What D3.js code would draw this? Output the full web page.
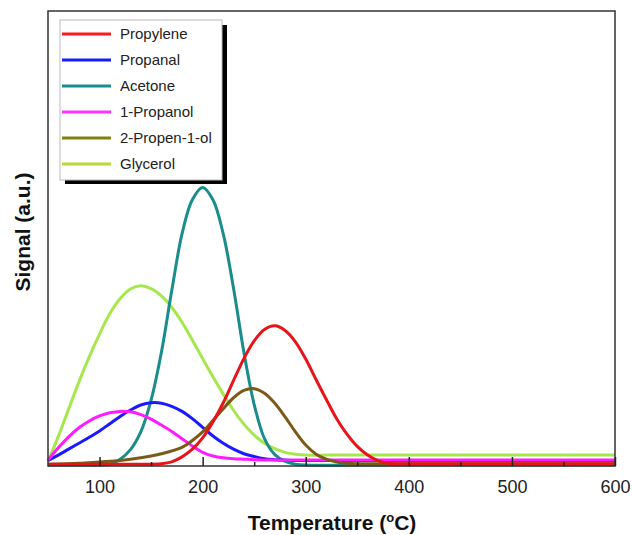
<!DOCTYPE html>
<html>
<head>
<meta charset="utf-8">
<script src="https://cdn.jsdelivr.net/npm/d3@7"></script>
<style>
  body { margin: 0; background: #fff; }
  svg { display: block; font-family: "Liberation Sans", Arial, sans-serif; }
</style>
</head>
<body>
<svg id="chart" width="632" height="535"></svg>
<script>
// series names + colours (legend colours are slightly off from the plot ones in the original)
var names = ["Propylene", "Propanal", "Acetone", "1-Propanol", "2-Propen-1-ol", "Glycerol"];
var colors = ["#e8141b", "#1a1aff", "#1a8c8c", "#ff1aff", "#7a5a16", "#a6e84c"];
var legendColors = ["#ff1a1a", "#1a1aff", "#1a8c8c", "#ff33ff", "#808010", "#b8d83a"];

// temperatures (C) and signals for each series
var tPropylene = [50, 80, 110, 140, 160, 170, 180, 190, 200, 210, 220, 230, 240, 250, 260, 270, 280, 290, 300, 310, 320, 330, 340, 350, 360, 370, 380, 390, 400, 450, 500, 550, 600];
var sPropylene = [0.4, 0.4, 0.4, 0.4, 0.5, 0.9, 2.0, 3.7, 6.2, 9.7, 13.9, 18.8, 23.6, 27.5, 30.0, 30.8, 29.8, 27.3, 23.5, 19.0, 14.6, 10.4, 7.0, 4.3, 2.4, 1.2, 0.6, 0.5, 0.5, 0.5, 0.5, 0.5, 0.5];

var tPropanal = [50, 60, 70, 80, 90, 100, 110, 120, 130, 140, 150, 160, 170, 180, 190, 200, 210, 220, 230, 240, 250, 260, 270, 280, 290, 300, 350, 400, 450, 500, 550, 600];
var sPropanal = [1.2, 2.4, 3.7, 5.0, 6.3, 7.7, 9.3, 10.9, 12.3, 13.4, 13.9, 13.8, 13.1, 12.0, 10.4, 8.5, 6.6, 5.0, 3.7, 2.7, 2.1, 1.6, 1.4, 1.3, 1.2, 1.2, 1.2, 1.2, 1.2, 1.2, 1.2, 1.2];

var tAcetone = [50, 70, 90, 100, 110, 120, 130, 140, 150, 160, 170, 180, 190, 200, 210, 220, 230, 240, 250, 260, 270, 280, 290, 300, 350, 400, 450, 500, 550, 600];
var sAcetone = [0.2, 0.2, 0.2, 0.2, 0.4, 1.5, 3.6, 7.5, 14.5, 25.0, 38.5, 51.0, 58.5, 61.2, 58.5, 51.0, 39.0, 25.0, 13.5, 6.0, 2.5, 1.0, 0.4, 0.2, 0.2, 0.2, 0.2, 0.2, 0.2, 0.2];

var tPropanol = [50, 60, 70, 80, 90, 100, 110, 120, 130, 140, 150, 160, 170, 180, 190, 200, 210, 220, 230, 240, 250, 270, 300, 350, 400, 450, 500, 550, 600];
var sPropanol = [1.3, 4.0, 6.4, 8.4, 9.9, 11.0, 11.7, 12.0, 11.9, 11.3, 10.3, 9.0, 7.6, 6.0, 4.4, 3.0, 2.2, 1.8, 1.6, 1.5, 1.4, 1.3, 1.3, 1.3, 1.3, 1.3, 1.3, 1.3, 1.3];

var tPropenol = [50, 80, 100, 120, 140, 160, 180, 190, 200, 210, 220, 230, 240, 250, 260, 270, 280, 290, 300, 310, 320, 330, 340, 350, 400, 450, 500, 550, 600];
var sPropenol = [0.4, 0.6, 0.9, 1.2, 1.8, 2.7, 4.1, 5.6, 7.5, 10.0, 12.6, 15.0, 16.6, 17.0, 16.0, 13.8, 10.8, 7.5, 4.6, 2.6, 1.5, 0.9, 0.6, 0.5, 0.5, 0.5, 0.5, 0.5, 0.5];

var tGlycerol = [50, 60, 70, 80, 90, 100, 110, 120, 130, 140, 150, 160, 170, 180, 190, 200, 210, 220, 230, 240, 250, 260, 270, 280, 290, 300, 320, 350, 400, 450, 500, 550, 600];
var sGlycerol = [1.0, 6.5, 12.5, 18.5, 24.0, 29.0, 33.5, 36.8, 38.9, 39.6, 39.0, 37.4, 34.9, 31.6, 27.7, 23.6, 19.6, 15.8, 12.2, 9.2, 6.8, 5.0, 3.8, 3.0, 2.6, 2.4, 2.4, 2.4, 2.4, 2.4, 2.4, 2.4, 2.4];

var xTicks = [100, 200, 300, 400, 500, 600];
var xMinor = [150, 250, 350, 450, 550];

var series = [
  {name: names[0], t: tPropylene, s: sPropylene},
  {name: names[1], t: tPropanal, s: sPropanal},
  {name: names[2], t: tAcetone, s: sAcetone},
  {name: names[3], t: tPropanol, s: sPropanol},
  {name: names[4], t: tPropenol, s: sPropenol},
  {name: names[5], t: tGlycerol, s: sGlycerol}
];
series.forEach(function(d, i) { d.color = colors[i]; d.legendColor = legendColors[i]; });

var svg = d3.select("#chart");
// plot box (window.top is reserved, so keep these in an object)
var box = {left: 48, right: 615, top: 11, bottom: 466};

var x = d3.scaleLinear().domain([50, 600]).range([box.left, box.right]);
var y = d3.scaleLinear().domain([0, 100]).range([box.bottom, box.top]);

var line = d3.line()
  .x(function(d) { return x(d[0]); })
  .y(function(d) { return y(d[1]); })
  .curve(d3.curveCatmullRom.alpha(0.5));

// draw order: glycerol at the back, propylene on top
var order = [5, 2, 1, 3, 4, 0];
order.forEach(function(i) {
  var d = series[i];
  svg.append("path")
    .attr("d", line(d3.zip(d.t, d.s)))
    .attr("fill", "none")
    .attr("stroke", d.color)
    .attr("stroke-width", 3)
    .attr("stroke-linejoin", "round");
});

// frame
svg.append("rect")
  .attr("x", box.left).attr("y", box.top)
  .attr("width", box.right - box.left).attr("height", box.bottom - box.top)
  .attr("fill", "none")
  .attr("stroke", "#333")
  .attr("stroke-width", 1.5);

// x axis, ticks pointing inward
var xAxis = d3.axisBottom(x).tickValues(xTicks).tickSize(-9).tickPadding(14);
var gx = svg.append("g").attr("transform", "translate(0," + box.bottom + ")").call(xAxis);
gx.select(".domain").remove();
gx.selectAll(".tick line").attr("stroke", "#222").attr("stroke-width", 1.5);
gx.selectAll(".tick text")
  .attr("font-size", 18)
  .attr("fill", "#222")
  .attr("font-family", "Liberation Sans, Arial, sans-serif");

var gm = svg.append("g").attr("transform", "translate(0," + box.bottom + ")")
  .call(d3.axisBottom(x).tickValues(xMinor).tickSize(-4).tickFormat(""));
gm.select(".domain").remove();
gm.selectAll(".tick line").attr("stroke", "#222").attr("stroke-width", 1.5);

// axis titles
var xt = svg.append("text")
  .attr("x", 332).attr("y", 530)
  .attr("text-anchor", "middle")
  .attr("font-size", 21)
  .attr("font-weight", "bold")
  .attr("fill", "#111");
xt.append("tspan").text("Temperature (");
xt.append("tspan").attr("font-size", 13).attr("dy", -8).text("o");
xt.append("tspan").attr("dy", 8).text("C)");

svg.append("text")
  .attr("transform", "translate(30,232) rotate(-90)")
  .attr("text-anchor", "middle")
  .attr("font-size", 21)
  .attr("font-weight", "bold")
  .attr("fill", "#111")
  .text("Signal (a.u.)");

// legend with drop shadow
var lg = svg.append("g");
lg.append("rect")
  .attr("x", 65).attr("y", 25).attr("width", 162).attr("height", 159)
  .attr("fill", "#000");
lg.append("rect")
  .attr("x", 60).attr("y", 20).attr("width", 162).attr("height", 160)
  .attr("fill", "#fff")
  .attr("stroke", "#bbb")
  .attr("stroke-width", 1);

var rows = lg.selectAll("g.row").data(series).enter().append("g")
  .attr("class", "row")
  .attr("transform", function(d, i) { return "translate(0," + (34 + i * 26) + ")"; });
rows.append("line")
  .attr("x1", 62).attr("x2", 111)
  .attr("stroke", function(d) { return d.legendColor; })
  .attr("stroke-width", 3);
rows.append("text")
  .attr("x", 120).attr("y", 5)
  .attr("font-size", 15)
  .attr("fill", "#222")
  .text(function(d) { return d.name; });
</script>
</body>
</html>
